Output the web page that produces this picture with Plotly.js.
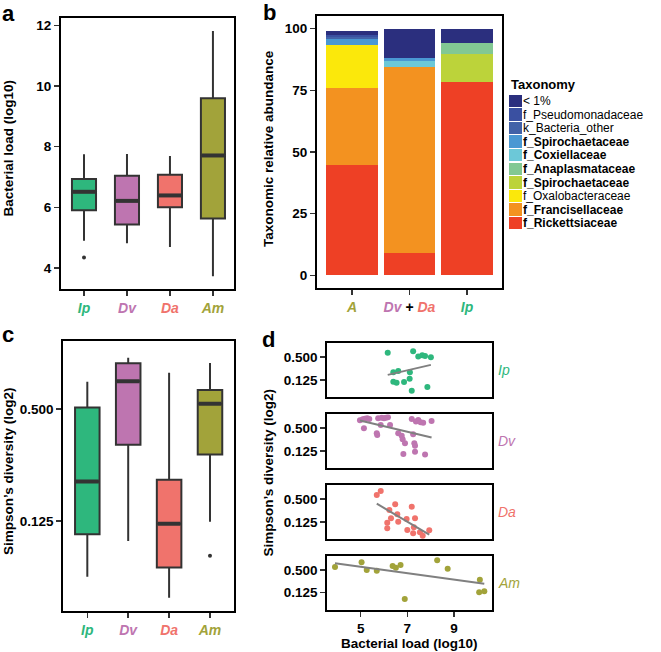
<!DOCTYPE html>
<html>
<head>
<meta charset="utf-8">
<script src="https://cdn.plot.ly/plotly-3.0.1.min.js"></script>
<style>html,body{margin:0;padding:0;background:#fff;}#chart{width:661px;height:652px;}</style>
</head>
<body>
<div id="chart"></div>
<script>
// ---------- data ----------
const groups = ['Ip', 'Dv', 'Da', 'Am'];
const groupColors = ['#2EB77D', '#BE75B0', '#F0736C', '#A2A33A'];

// panel a: bacterial load (log10) box stats
const loadQ1 = [5.90, 5.43, 6.00, 5.63];
const loadMedian = [6.51, 6.21, 6.39, 7.71];
const loadQ3 = [6.93, 7.04, 7.07, 9.60];
const loadLower = [4.89, 4.81, 4.69, 3.72];
const loadUpper = [7.75, 7.76, 7.69, 11.82];
const loadOutlierGroup = [0];
const loadOutlierValue = [4.34];
const loadTicks = [4, 6, 8, 10, 12];

// panel b: taxonomic relative abundance
const hosts = ['A', 'Dv + Da', 'Ip'];
const taxa = ['f_Rickettsiaceae', 'f_Francisellaceae', 'f_Oxalobacteraceae', 'f_Spirochaetaceae',
  'f_Anaplasmataceae', 'f_Coxiellaceae', 'f_Spirochaetaceae', 'k_Bacteria_other',
  'f_Pseudomonadaceae', '&lt; 1%'];
const taxaBold = [true, true, false, true, true, true, true, false, false, false];
const taxaColors = ['#EE4025', '#F39220', '#FBE80B', '#BCD33A', '#82C893', '#6CC8D8',
  '#4A98D3', '#4262A8', '#3A50A1', '#2B2F7E'];
const abundanceA = [44.7, 31.4, 17.2, 0, 0, 0, 2.6, 0.7, 1.0, 1.5];
const abundanceDvDa = [8.9, 75.4, 0, 0, 0, 2.7, 1.2, 0, 0, 11.8];
const abundanceIp = [78.5, 0, 0, 11.1, 4.7, 0, 0, 0, 0, 5.5];
const abundanceTicks = [0, 25, 50, 75, 100];

// panel c: Simpson's diversity box stats
const simpQ1 = [0.106, 0.321, 0.0704, 0.285];
const simpMedian = [0.204, 0.705, 0.121, 0.534];
const simpQ3 = [0.510, 0.880, 0.208, 0.633];
const simpLower = [0.0627, 0.0976, 0.0484, 0.124];
const simpUpper = [0.701, 0.944, 0.784, 0.884];
const simpOutlierGroup = [3];
const simpOutlierValue = [0.0813];
const simpTicks = [0.125, 0.5];
const simpTickText = ['0.125', '0.500'];

// panel d: load vs diversity per group
const ipLoad = [6.16, 7.25, 7.47, 7.64, 7.76, 8.01, 6.40, 6.61, 7.11, 6.40, 6.54, 6.86, 7.10, 7.19, 7.86];
const ipSimpson = [0.66, 0.72, 0.52, 0.56, 0.54, 0.50, 0.198, 0.214, 0.20, 0.111, 0.104, 0.109, 0.134, 0.064, 0.080];
const dvLoad = [4.97, 5.09, 5.18, 5.28, 5.37, 5.14, 5.75, 5.90, 6.00, 6.08, 6.17, 5.69, 5.71, 5.86, 6.26,
  6.61, 6.76, 6.80, 6.90, 6.83, 7.19, 7.37, 7.47, 7.57, 7.68, 8.04, 7.25, 7.30, 7.33, 7.33, 7.76];
const dvSimpson = [0.81, 0.865, 0.90, 0.92, 0.88, 0.50, 0.92, 0.95, 0.92, 0.95, 0.98, 0.366, 0.33, 0.61, 0.61,
  0.366, 0.316, 0.253, 0.198, 0.103, 0.88, 0.75, 0.83, 0.72, 0.70, 0.78, 0.344, 0.198, 0.171, 0.118, 0.10];
const daLoad = [5.69, 5.86, 6.48, 7.19, 6.23, 6.57, 6.30, 6.97, 7.33, 6.14, 6.61, 6.14, 7.00, 7.28, 7.25, 7.54, 7.66, 7.94];
const daSimpson = [0.647, 0.83, 0.366, 0.316, 0.258, 0.20, 0.155, 0.148, 0.155, 0.118, 0.126, 0.084, 0.0755, 0.089, 0.0617, 0.0656, 0.053, 0.074];
const amLoad = [3.90, 5.04, 5.26, 5.69, 6.37, 6.51, 6.71, 6.89, 8.28, 8.73, 10.11, 10.08, 10.30];
const amSimpson = [0.598, 0.80, 0.497, 0.477, 0.635, 0.573, 0.676, 0.0838, 0.90, 0.54, 0.274, 0.126, 0.135];
const loadXTicks = [5, 7, 9];

// ---------- helpers ----------
const W = 661, H = 652;
const dx = (a, b) => [a / W, b / W];
const dy = (top, bottom) => [1 - bottom / H, 1 - top / H];
const FONT = 'Liberation Sans, Arial, Helvetica, sans-serif';
const BOX_LINE = '#333333';

const traces = [];
const colorLabel = (g, i) => `<span style="color:${groupColors[i]}"><i>${g}</i></span>`;

function boxPanel(xa, ya, q1, med, q3, lo, hi, width, outG, outV) {
  groups.forEach((g, i) => {
    traces.push({
      type: 'box', x: [i], q1: [q1[i]], median: [med[i]], q3: [q3[i]],
      lowerfence: [lo[i]], upperfence: [hi[i]], width: width,
      fillcolor: groupColors[i], line: { color: BOX_LINE, width: 2 }, whiskerwidth: 0,
      boxpoints: false, xaxis: xa, yaxis: ya, showlegend: false, hoverinfo: 'skip'
    });
    // thicker median bar (ggplot style)
    traces.push({
      type: 'scatter', mode: 'lines', x: [i - width / 2 + 0.02, i + width / 2 - 0.02], y: [med[i], med[i]],
      line: { color: BOX_LINE, width: 4 }, xaxis: xa, yaxis: ya, showlegend: false, hoverinfo: 'skip'
    });
  });
  traces.push({
    type: 'scatter', mode: 'markers', x: outG, y: outV,
    marker: { color: BOX_LINE, size: 4 }, xaxis: xa, yaxis: ya, showlegend: false, hoverinfo: 'skip'
  });
}

boxPanel('x', 'y', loadQ1, loadMedian, loadQ3, loadLower, loadUpper, 0.56, loadOutlierGroup, loadOutlierValue);
boxPanel('x3', 'y3', simpQ1, simpMedian, simpQ3, simpLower, simpUpper, 0.6, simpOutlierGroup, simpOutlierValue);

// panel b stacked bars
const hostValues = [abundanceA, abundanceDvDa, abundanceIp];
taxa.forEach((t, k) => {
  traces.push({
    type: 'bar', x: hosts.map((h, i) => i), y: hostValues.map(v => v[k]),
    marker: { color: taxaColors[k], line: { width: 0 } }, width: 0.9,
    xaxis: 'x2', yaxis: 'y2', showlegend: false, hoverinfo: 'skip', name: t
  });
});

// custom legend swatches for panel b
traces.push({
  type: 'bar', orientation: 'h', y: taxa.map((t, k) => k), x: taxa.map(() => 1),
  marker: { color: taxaColors, line: { width: 0 } }, width: 0.92,
  xaxis: 'x8', yaxis: 'y8', showlegend: false, hoverinfo: 'skip'
});

// panel d scatter + lm lines
const dData = [[ipLoad, ipSimpson], [dvLoad, dvSimpson], [daLoad, daSimpson], [amLoad, amSimpson]];
dData.forEach(([xs, ys], i) => {
  const xa = 'x' + (4 + i), ya = 'y' + (4 + i);
  traces.push({
    type: 'scatter', mode: 'markers', x: xs, y: ys,
    marker: { color: groupColors[i], size: 6 }, xaxis: xa, yaxis: ya, showlegend: false, hoverinfo: 'skip'
  });
  const ly = ys.map(v => Math.log2(v));
  const n = xs.length;
  const mx = xs.reduce((a, b) => a + b, 0) / n, my = ly.reduce((a, b) => a + b, 0) / n;
  let sxy = 0, sxx = 0;
  for (let j = 0; j < n; j++) { sxy += (xs[j] - mx) * (ly[j] - my); sxx += (xs[j] - mx) ** 2; }
  const b = sxy / sxx, a = my - b * mx;
  const x0 = Math.min(...xs), x1 = Math.max(...xs);
  traces.push({
    type: 'scatter', mode: 'lines', x: [x0, x1], y: [Math.pow(2, a + b * x0), Math.pow(2, a + b * x1)],
    line: { color: '#808080', width: 2 }, xaxis: xa, yaxis: ya, showlegend: false, hoverinfo: 'skip'
  });
});

// ---------- layout ----------
const axisBase = {
  showline: true, linecolor: '#000', linewidth: 2, mirror: true, showgrid: false, zeroline: false,
  ticks: 'outside', ticklen: 5, tickwidth: 1.5, tickcolor: '#333',
  tickfont: { family: FONT, size: 13.5, color: '#000', weight: 'bold' }
};
const ax = (o) => Object.assign({}, axisBase, o);

const groupTickText = groups.map((g, i) => colorLabel(g, i));
const hostTickText = [
  `<span style="color:${groupColors[3]}"><i>A</i></span>`,
  `<span style="color:${groupColors[1]}"><i>Dv</i></span> + <span style="color:${groupColors[2]}"><i>Da</i></span>`,
  `<span style="color:${groupColors[0]}"><i>Ip</i></span>`
];

const layout = {
  width: W, height: H, margin: { l: 0, r: 0, t: 0, b: 0 },
  paper_bgcolor: '#fff', plot_bgcolor: '#fff', showlegend: false, barmode: 'stack',
  font: { family: FONT, color: '#000' },
  // a
  xaxis: ax({ domain: dx(61, 234), range: [-0.535, 3.49], tickvals: [0, 1, 2, 3], ticktext: groupTickText, anchor: 'y', tickfont: { family: FONT, size: 14, weight: 'bold' } }),
  yaxis: ax({ domain: dy(18, 289), range: [3.3, 12.25], tickvals: loadTicks, anchor: 'x' }),
  // b
  xaxis2: ax({ domain: dx(317, 502), range: [-0.609, 2.609], tickvals: [0, 1, 2], ticktext: hostTickText, anchor: 'y2', tickfont: { family: FONT, size: 14, weight: 'bold' } }),
  yaxis2: ax({ domain: dy(16, 288), range: [-5.15, 105.1], tickvals: abundanceTicks, anchor: 'x2' }),
  // c
  xaxis3: ax({ domain: dx(63.3, 234), range: [-0.587, 3.587], tickvals: [0, 1, 2, 3], ticktext: groupTickText, anchor: 'y3', tickfont: { family: FONT, size: 14, weight: 'bold' } }),
  yaxis3: ax({ domain: dy(340.7, 610.7), type: 'log', range: [-1.385, 0.066], tickvals: simpTicks, ticktext: simpTickText, anchor: 'x3' }),
  // legend axes
  xaxis8: { domain: dx(509, 522), range: [0, 1], visible: false, anchor: 'y8', fixedrange: true },
  yaxis8: {
    domain: dy(94, 230), range: [-0.5, 9.5], anchor: 'x8', side: 'right', showline: false, showgrid: false,
    zeroline: false, ticks: '', tickvals: taxa.map((t, k) => k),
    ticktext: taxa.map((t, k) => taxaBold[k] ? '<b>' + t + '</b>' : t),
    tickfont: { family: FONT, size: 12, color: '#000' }
  },
  annotations: [],
};

// d facets
const facetTops = [343.3, 414.3, 485.3, 556];
facetTops.forEach((t, i) => {
  const last = i === 3;
  layout['xaxis' + (4 + i)] = ax({
    domain: dx(327.3, 492), range: [3.57, 10.63], tickvals: loadXTicks, anchor: 'y' + (4 + i),
    showticklabels: last, ticks: last ? 'outside' : ''
  });
  layout['yaxis' + (4 + i)] = ax({
    domain: dy(t, t + 54), type: 'log', range: [-1.37, 0.07], tickvals: simpTicks, ticktext: simpTickText,
    anchor: 'x' + (4 + i)
  });
  layout.annotations.push({
    xref: 'paper', yref: 'paper', x: 496 / W, y: 1 - (t + 27) / H, xanchor: 'left', yanchor: 'middle',
    text: '<i>' + groups[i] + '</i>', showarrow: false,
    font: { family: FONT, size: 14, color: groupColors[i] }
  });
});

function ann(text, x, y, opts) {
  layout.annotations.push(Object.assign({
    xref: 'paper', yref: 'paper', x: x / W, y: 1 - y / H, text: text, showarrow: false,
    xanchor: 'center', yanchor: 'middle', font: { family: FONT, size: 13.5, color: '#000', weight: 'bold' }
  }, opts || {}));
}
// axis titles
ann('Bacterial load (log10)', 8, 148.5, { textangle: -90 });
ann('Taxonomic relative abundance', 268, 149, { textangle: -90 });
ann('Simpson\u2019s diversity (log2)', 8, 471, { textangle: -90 });
ann('Simpson\u2019s diversity (log2)', 267.5, 473, { textangle: -90 });
ann('Bacterial load (log10)', 409.5, 643);
// legend title
ann('Taxonomy', 509, 84, { xanchor: 'left', font: { family: FONT, size: 13, color: '#000', weight: 'bold' } });
// panel letters
const letterFont = { family: FONT, size: 22, color: '#000', weight: 'bold' };
ann('a', 0, 14, { xanchor: 'left', font: letterFont });
ann('b', 261, 13, { xanchor: 'left', font: letterFont });
ann('c', 0, 334, { xanchor: 'left', font: letterFont });
ann('d', 260, 339, { xanchor: 'left', font: letterFont });

Plotly.newPlot('chart', traces, layout, { staticPlot: true, displayModeBar: false });
</script>
</body>
</html>
